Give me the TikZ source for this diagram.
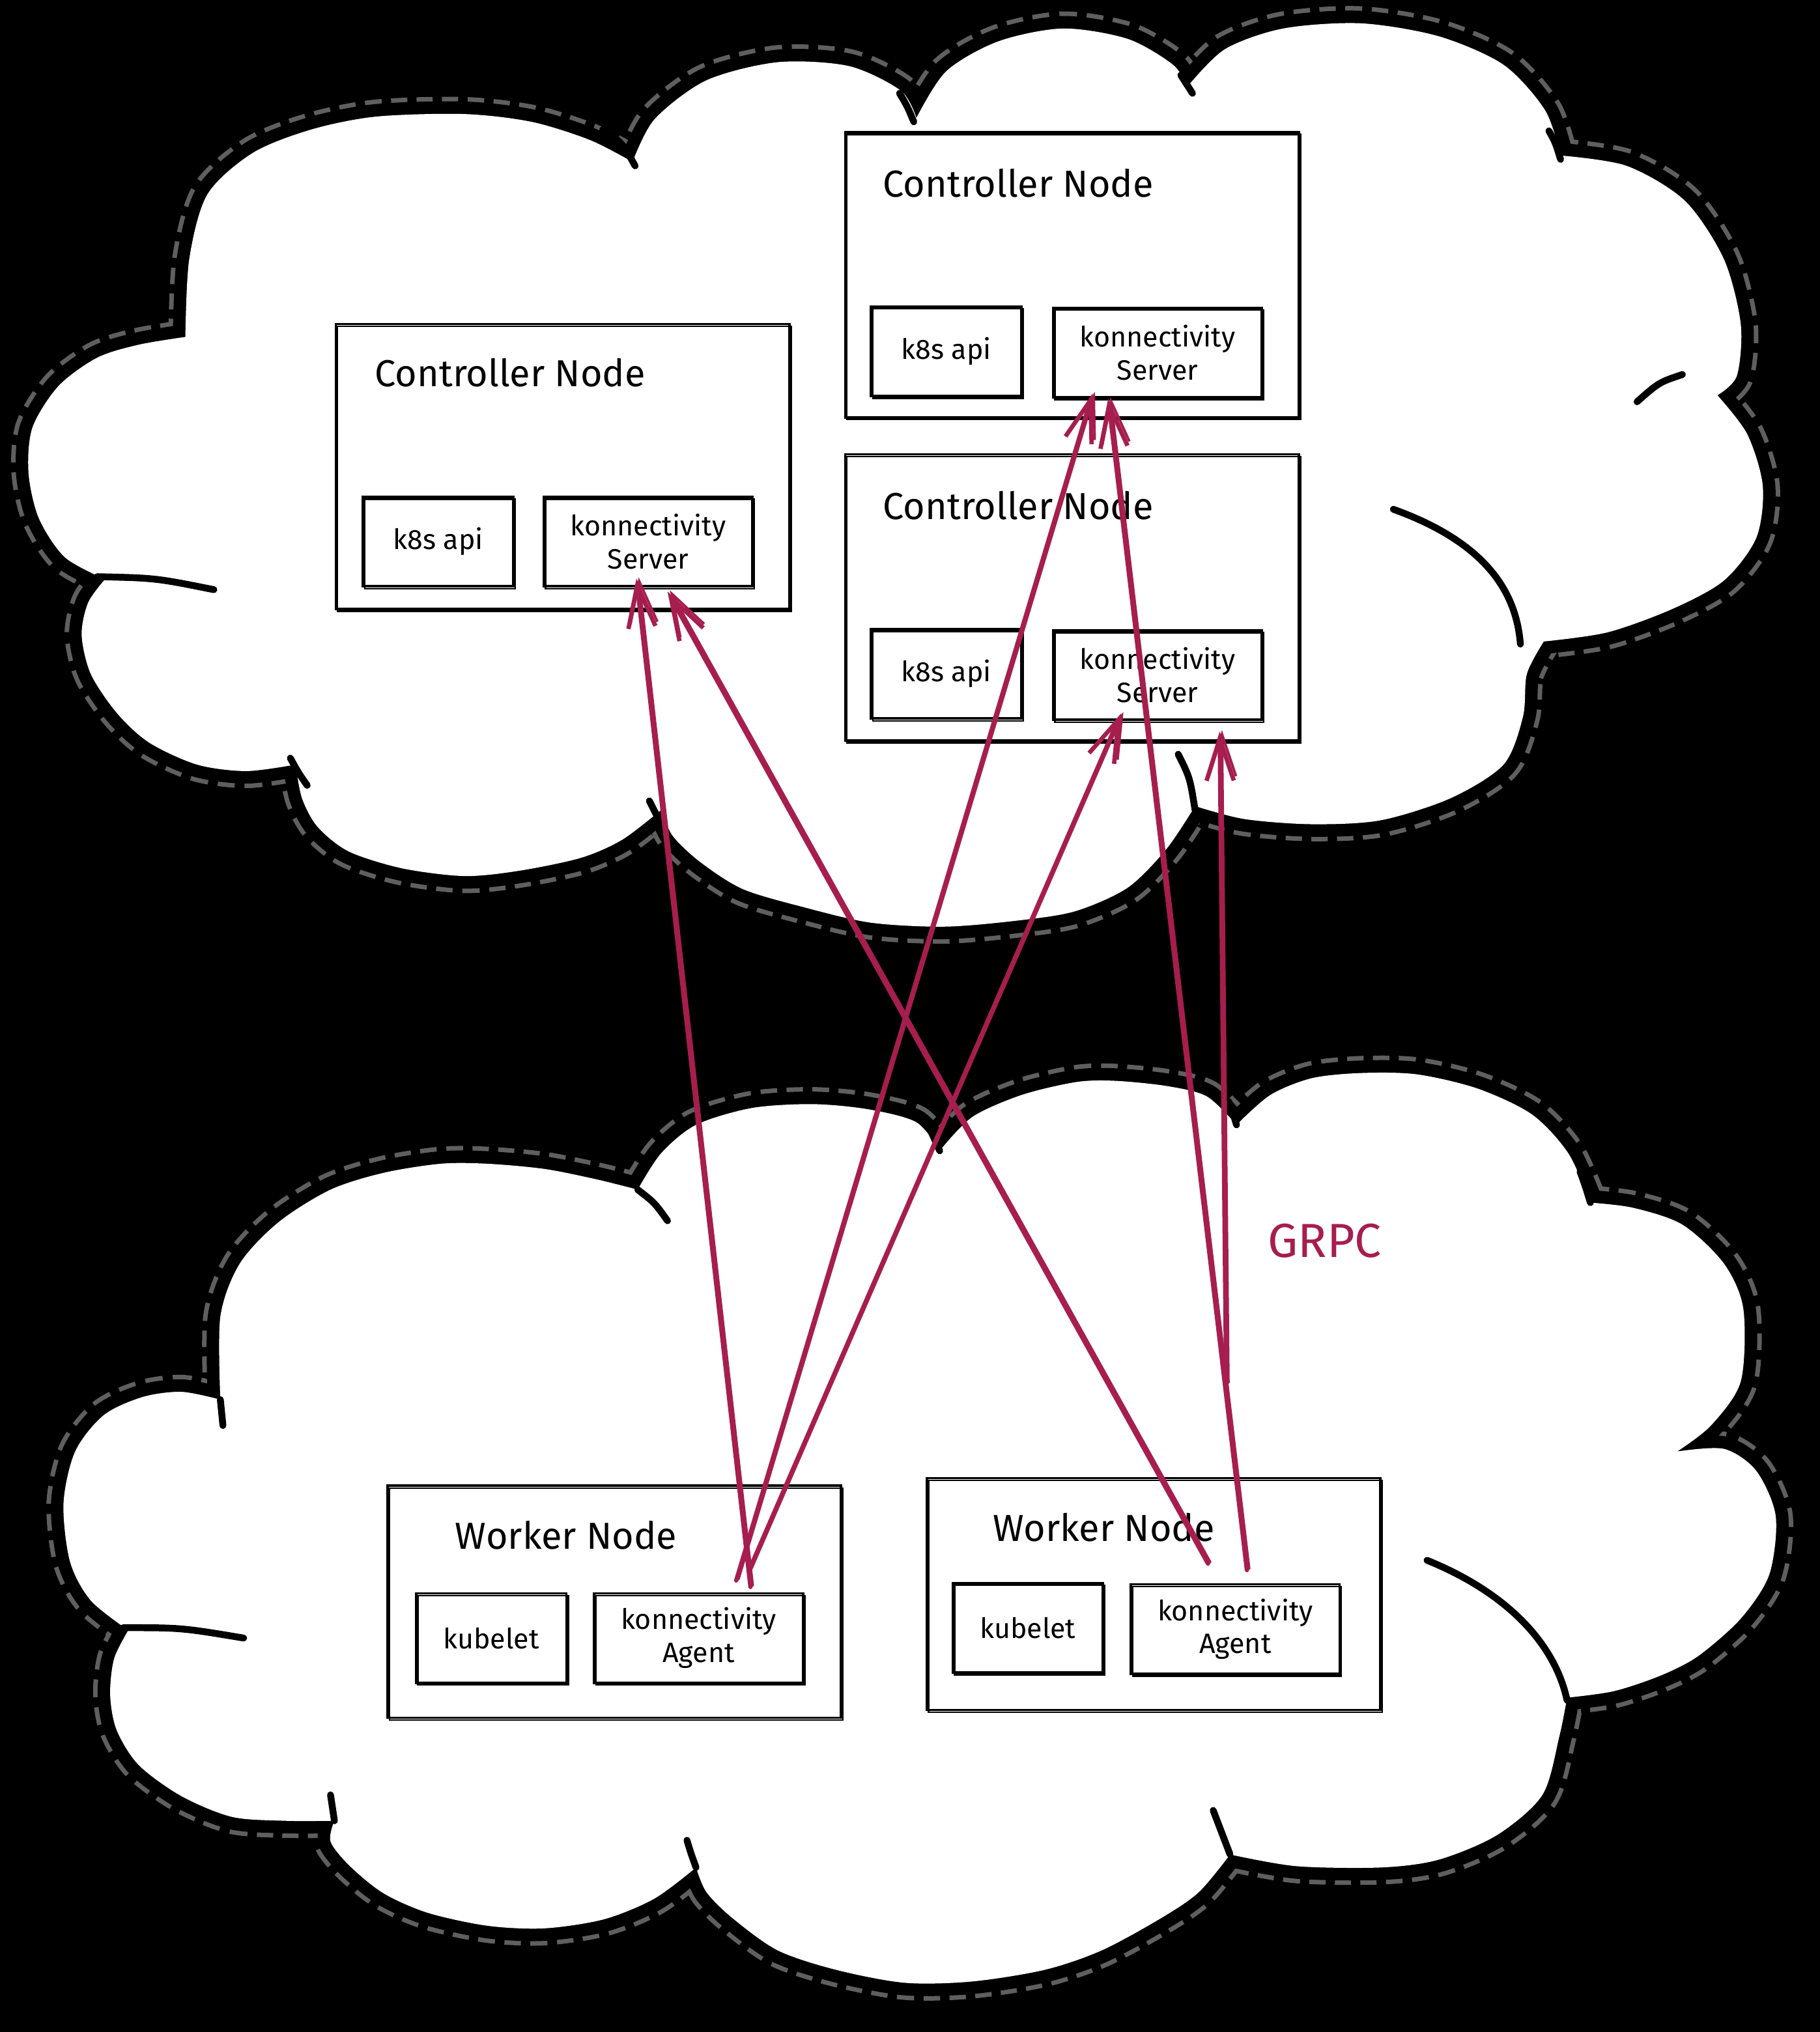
\documentclass[tikz,border=0pt]{standalone}
\usepackage{fontspec}
\setmainfont{Fira Sans}
\usetikzlibrary{arrows.meta,calc}
\definecolor{grpc}{RGB}{166,30,77}
\definecolor{haze}{RGB}{95,95,95}
\tikzset{
  cloudbody/.style={fill=white, line join=round,
    preaction={draw=haze, line width=15pt, dash pattern=on 7pt off 4pt, line join=round},
    preaction={draw=black, line width=11pt, line join=round}},
  crease/.style={draw=black, line width=3pt, line cap=round},
  sketch/.style={draw, line width=1.1pt,
    postaction={draw, line width=0.7pt, transform canvas={shift={(0.8pt,-1pt)}}}},
  nodeframe/.style={sketch, minimum width=7cm, minimum height=#1},
  partbox/.style={sketch, inner sep=0pt, align=center, minimum width=#1, minimum height=1.38cm,
    font=\fontsize{12.3}{14.5}\selectfont},
  boxtitle/.style={anchor=base west, font=\fontsize{16.5}{20}\selectfont},
  linkarrow/.style={draw=grpc, line width=1.9pt, line cap=round, line join=round,
    -{Straight Barb[length=6.5mm,width=4.2mm]},
    postaction={draw=grpc, line width=1.1pt, transform canvas={shift={(1pt,0.6pt)}}}},
}
\begin{document}
\begin{tikzpicture}[x=0.02cm, y=-0.02cm]
    \fill[black] (0,0) rectangle (1404,1568);
    \useasboundingbox (0,0) rectangle (1404,1568);
    % upper cloud
    \path[cloudbody] plot[smooth] coordinates {(81,447) (50,430) (30,400) (22,365) (25,330) (45,298) (75,276) (107,266) (143,260)}
      -- plot[smooth] coordinates {(143,260) (146,200) (160,150) (195,118) (240,100) (290,90) (358,88) (410,94) (455,108) (488,125)}
      -- plot[smooth] coordinates {(488,125) (505,92) (545,62) (600,48) (655,51) (695,70) (707,91)}
      -- plot[smooth] coordinates {(707,91) (730,55) (770,32) (820,22) (870,30) (905,50) (916,67)}
      -- plot[smooth] coordinates {(916,67) (945,38) (990,22) (1050,18) (1110,28) (1160,50) (1192,85) (1204,120)}
      -- plot[smooth] coordinates {(1204,120) (1255,128) (1300,155) (1330,200) (1343,250) (1340,290) (1325,305)}
      -- plot[smooth] coordinates {(1325,305) (1348,335) (1360,375) (1355,415) (1330,448) (1290,470) (1240,488) (1191,495)}
      -- plot[smooth] coordinates {(1191,495) (1178,520) (1175,553) (1160,590) (1119,616) (1065,633) (1012,636) (960,632) (922,622)}
      -- plot[smooth] coordinates {(922,622) (900,655) (870,685) (830,703) (788,710) (730,715) (672,712) (620,700) (573,686) (540,665) (519,645) (510,625)}
      -- plot[smooth] coordinates {(510,625) (480,648) (448,662) (400,672) (358,676) (310,670) (269,657) (245,638) (233,616) (228,590)}
      -- plot[smooth] coordinates {(228,590) (190,595) (152,590) (115,573) (90,550) (70,520) (63,490) (68,465) (81,447)}
      -- cycle;
    \draw[crease] (75,445) .. controls (120,446) .. (165,455)
      (465,100) .. controls (480,110) .. (490,128)
      (694,72) .. controls (700,82) .. (705,94)
      (911,58) .. controls (916,65) .. (920,72)
      (1195,101) .. controls (1200,110) .. (1204,123)
      (1263,310) .. controls (1280,295) .. (1298,289)
      (1075,393) .. controls (1150,420) and (1170,460) .. (1173,497)
      (909,582) .. controls (918,600) .. (922,625)
      (501,618) .. controls (506,628) .. (512,640)
      (224,585) .. controls (230,596) .. (237,606);
    % lower cloud
    \path[cloudbody] plot[smooth] coordinates {(99,1258) (70,1235) (54,1205) (49,1160) (58,1120) (80,1092) (110,1078) (140,1074) (170,1080)}
      -- plot[smooth] coordinates {(170,1080) (170,1016) (185,975) (215,943) (255,918) (296,905) (340,898) (376,898) (420,902) (460,910) (492,918)}
      -- plot[smooth] coordinates {(492,918) (510,890) (537,868) (580,855) (627,852) (670,856) (707,866) (725,888)}
      -- plot[smooth] coordinates {(725,888) (750,862) (788,845) (830,835) (860,834) (900,838) (931,846) (954,868)}
      -- plot[smooth] coordinates {(954,868) (980,845) (1012,832) (1050,828) (1093,829) (1140,840) (1182,860) (1210,890) (1227,928)}
      -- plot[smooth] coordinates {(1227,928) (1260,932) (1298,945) (1330,975) (1345,1010) (1343,1066) (1320,1100) (1294,1120)}
      -- plot[smooth] coordinates {(1294,1120) (1330,1118) (1355,1135) (1370,1170) (1365,1215) (1343,1249) (1310,1278) (1281,1293) (1245,1305) (1209,1310)}
      -- plot[smooth] coordinates {(1209,1310) (1203,1340) (1190,1385) (1155,1416) (1110,1435) (1066,1441) (1000,1440) (949,1431)}
      -- plot[smooth] coordinates {(949,1431) (925,1460) (896,1480) (850,1505) (806,1520) (750,1529) (698,1530) (645,1520) (600,1505) (565,1480) (545,1460) (537,1441)}
      -- plot[smooth] coordinates {(537,1441) (505,1465) (466,1481) (420,1488) (376,1486) (330,1476) (296,1461) (270,1440) (255,1421) (258,1405)}
      -- plot[smooth] coordinates {(258,1405) (220,1405) (179,1402) (140,1386) (107,1362) (90,1335) (85,1308) (88,1280) (99,1258)}
      -- cycle;
    \draw[crease] (95,1256) .. controls (140,1256) .. (188,1264)
      (170,1080) .. controls (171,1090) .. (172,1100)
      (492,918) .. controls (505,928) .. (515,942)
      (725,888) .. controls (720,878) .. (716,868)
      (954,868) .. controls (951,858) .. (948,850)
      (1227,928) .. controls (1223,915) .. (1219,904)
      (1101,1204) .. controls (1165,1230) and (1200,1270) .. (1209,1312)
      (949,1431) .. controls (942,1414) .. (936,1397)
      (537,1441) .. controls (533,1430) .. (530,1420)
      (258,1405) .. controls (256,1395) .. (255,1385);
    % controller nodes
    \node[nodeframe=4.4cm] (c1) at (434,360) {};
    \node[boxtitle] (c1t) at ($(c1.north west)+(25,49)$) {Controller Node};
    \node[partbox=2.32cm] (api1) at (338,418) {k8s api};
    \node[partbox=3.22cm] (sv1) at (500,418) {konnectivity\\Server};
    \node[nodeframe=4.4cm] (c2) at (827,212) {};
    \node[boxtitle] (c2t) at ($(c2.north west)+(24,51)$) {Controller Node};
    \node[partbox=2.32cm] (api2) at (730,271) {k8s api};
    \node[partbox=3.22cm] (sv2) at (893,272) {konnectivity\\Server};
    \node[nodeframe=4.42cm] (c3) at (827,461) {};
    \node[boxtitle] (c3t) at ($(c3.north west)+(24,51)$) {Controller Node};
    \node[partbox=2.32cm] (api3) at (730,520) {k8s api};
    \node[partbox=3.22cm] (sv3) at (893,521) {konnectivity\\Server};
    % worker nodes
    \node[nodeframe=3.58cm] (w1) at (474,1236) {};
    \node[boxtitle] (w1t) at ($(w1.north west)+(47,50)$) {Worker Node};
    \node[partbox=2.32cm] (kub1) at (379,1264) {kubelet};
    \node[partbox=3.22cm] (ag1) at (539,1264) {konnectivity\\Agent};
    \node[nodeframe=3.58cm] (w2) at (890,1230) {};
    \node[boxtitle] (w2t) at ($(w2.north west)+(46,50)$) {Worker Node};
    \node[partbox=2.32cm] (kub2) at (793,1256) {kubelet};
    \node[partbox=3.22cm] (ag2) at (953,1257) {konnectivity\\Agent};
    % tunnels
    \draw[linkarrow] ($(ag1.north)+(40,-4)$) -- ($(sv1.south)+(-9,-7)$);
    \draw[linkarrow] ($(ag1.north)+(29,-9)$) -- ($(sv2.south)+(-50,-4)$);
    \draw[linkarrow] ($(ag1.north)+(39,-17)$) -- ($(sv3.south)+(-28,-6)$);
    \draw[linkarrow] ($(ag2.north)+(-21,-15)$) -- ($(sv1.south)+(15,3)$);
    \draw[linkarrow] ($(ag2.north)+(9,-10)$) -- ($(sv2.south)+(-38,0)$);
    \coordinate (grpcfoot) at (946,1068);
    \draw[linkarrow] (grpcfoot) -- ($(sv3.south)+(48,8)$);
    \node[anchor=base west, text=grpc, font=\fontsize{21}{24}\selectfont] (grpc) at (972,970) {GRPC};
\end{tikzpicture}
\end{document}
